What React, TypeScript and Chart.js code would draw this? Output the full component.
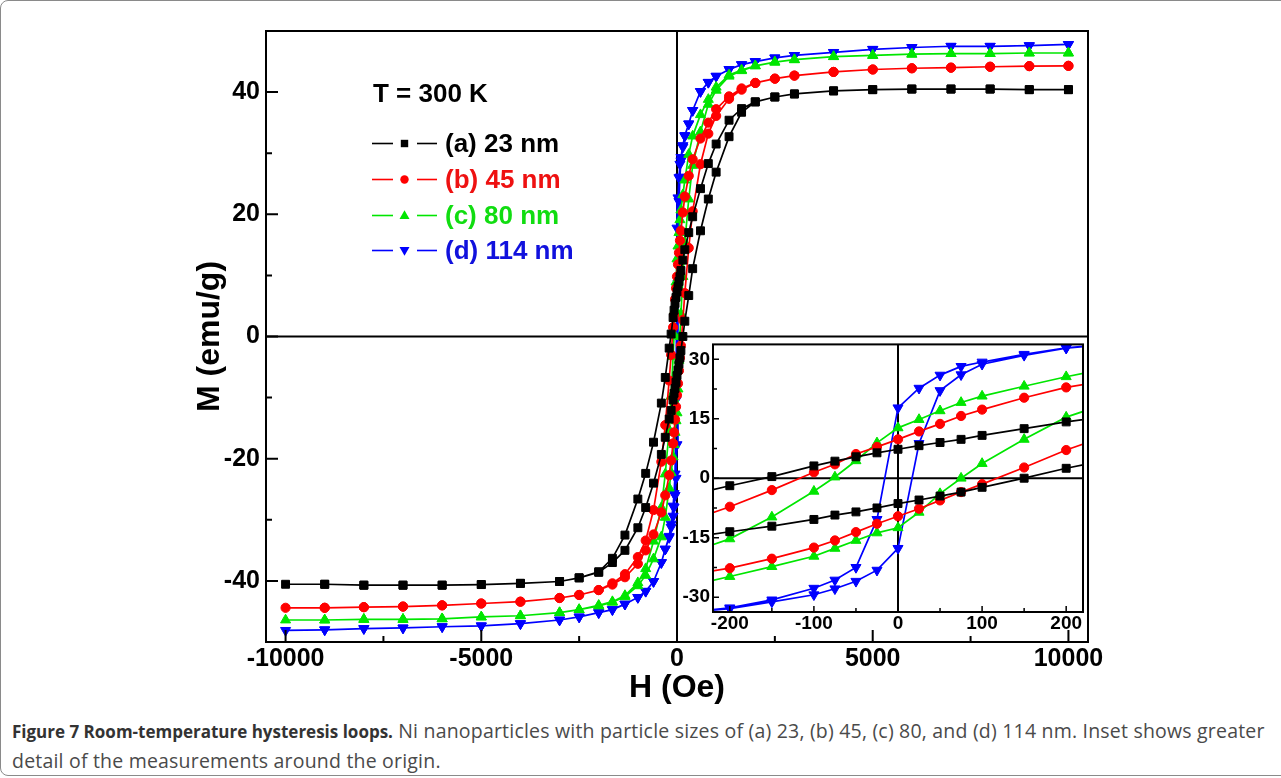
import React, { useEffect, useRef } from 'react';
import { Chart, registerables } from 'chart.js';

Chart.register(...registerables);

// Applied field, descending branch (Oe)
const fieldDown = [10000, 9000, 8000, 7000, 6000, 5000, 4000, 3000, 2500, 2000, 1650, 1330, 1000, 800, 600, 400, 300, 200, 150, 100, 75, 50, 25, 0, -25, -50, -75, -100, -150, -200, -300, -400, -600, -800, -1000, -1330, -1650, -2000, -2500, -3000, -4000, -5000, -6000, -7000, -8000, -9000, -10000];
// Applied field, ascending branch (Oe)
const fieldUp = [-10000, -9000, -8000, -7000, -6000, -5000, -4000, -3000, -2500, -2000, -1650, -1330, -1000, -800, -600, -400, -300, -200, -150, -100, -75, -50, -25, 0, 25, 50, 75, 100, 150, 200, 300, 400, 600, 800, 1000, 1330, 1650, 2000, 2500, 3000, 4000, 5000, 6000, 7000, 8000, 9000, 10000];

// (a) 23 nm
const m23Down = [40.4, 40.4, 40.5, 40.5, 40.5, 40.4, 40.2, 39.7, 39.2, 38.4, 37.3, 35.4, 31.5, 28.3, 24.2, 19.6, 17.0, 14.2, 12.5, 10.8, 9.8, 9.0, 8.2, 7.3, 6.4, 5.4, 4.3, 3.1, 0.4, -1.9, -6.7, -10.9, -17.3, -22.4, -26.6, -32.5, -36.3, -38.5, -39.5, -40.1, -40.4, -40.6, -40.7, -40.7, -40.7, -40.55, -40.55];
const m23Up = [-40.55, -40.55, -40.7, -40.7, -40.7, -40.6, -40.4, -40.1, -39.5, -38.6, -37.0, -35.0, -31.3, -28.0, -24.0, -19.3, -16.5, -13.5, -12.1, -10.4, -9.3, -8.5, -7.5, -6.4, -5.5, -4.5, -3.5, -2.3, 0.0, 2.5, 6.7, 11.1, 17.3, 22.5, 26.9, 32.7, 36.7, 38.4, 39.2, 39.7, 40.2, 40.4, 40.5, 40.5, 40.5, 40.4, 40.4];

// (b) 45 nm
const m45Down = [44.3, 44.25, 44.15, 44.0, 43.9, 43.7, 43.3, 42.7, 42.2, 41.5, 40.6, 39.3, 37.2, 35.0, 32.4, 29.0, 26.3, 22.9, 20.3, 17.3, 15.7, 13.7, 11.8, 9.8, 7.9, 6.1, 3.5, 1.5, -3.0, -7.2, -14.5, -20.5, -28.4, -33.4, -36.1, -38.9, -40.4, -41.5, -42.3, -42.8, -43.4, -43.7, -44.0, -44.2, -44.3, -44.4, -44.4];
const m45Up = [-44.4, -44.4, -44.3, -44.2, -44.0, -43.7, -43.4, -42.8, -42.3, -41.5, -40.6, -39.4, -37.2, -35.0, -32.4, -28.8, -26.0, -22.7, -20.3, -17.5, -15.7, -13.6, -11.5, -9.6, -7.7, -5.6, -3.5, -1.5, 2.7, 7.1, 14.5, 20.5, 28.2, 33.2, 36.1, 38.9, 40.4, 41.5, 42.2, 42.7, 43.3, 43.7, 43.9, 44.0, 44.15, 44.25, 44.3];

// (c) 80 nm
const m80Down = [46.4, 46.4, 46.3, 46.3, 46.2, 46.0, 45.8, 45.3, 44.9, 44.3, 43.6, 42.8, 40.8, 38.8, 36.3, 32.8, 29.8, 25.6, 23.2, 20.7, 19.1, 17.0, 14.8, 12.7, 8.9, 4.4, 0.3, -3.3, -9.8, -15.3, -22.5, -28.0, -33.5, -38.0, -40.3, -42.4, -43.4, -44.0, -44.7, -45.2, -45.7, -45.9, -46.2, -46.3, -46.3, -46.4, -46.4];
const m80Up = [-46.4, -46.4, -46.3, -46.3, -46.2, -45.9, -45.7, -45.2, -44.7, -44.1, -43.5, -42.6, -40.8, -39.1, -36.4, -32.8, -29.6, -24.8, -22.3, -19.7, -17.7, -15.7, -13.8, -12.5, -8.6, -3.9, 0.0, 3.7, 9.8, 15.4, 22.5, 28.0, 33.5, 38.0, 40.3, 42.6, 43.5, 44.3, 44.9, 45.3, 45.8, 46.0, 46.2, 46.3, 46.3, 46.4, 46.4];

// (d) 114 nm
const m114Down = [47.8, 47.6, 47.5, 47.5, 47.3, 47.0, 46.5, 46.0, 45.6, 45.0, 44.5, 43.7, 42.6, 41.6, 40.1, 37.0, 34.8, 32.9, 31.25, 29.3, 28.2, 26.0, 22.7, 17.75, -10.4, -22.5, -25.7, -27.75, -30.7, -32.7, -34.8, -37.0, -40.1, -41.7, -42.7, -43.8, -44.7, -45.2, -45.9, -46.4, -47.0, -47.35, -47.5, -47.7, -47.8, -48.0, -48.1];
const m114Up = [-48.1, -48.0, -47.8, -47.7, -47.5, -47.35, -47.0, -46.4, -45.9, -45.2, -44.7, -43.8, -42.7, -41.7, -40.1, -37.0, -34.8, -32.9, -31.2, -29.4, -27.9, -26.0, -23.2, -17.7, 8.75, 22.1, 26.1, 28.75, 31.0, 32.8, 34.8, 37.0, 40.1, 41.6, 42.6, 43.7, 44.5, 45.0, 45.6, 46.0, 46.5, 47.0, 47.3, 47.5, 47.5, 47.6, 47.8];

const seriesLabels = ['(a) 23 nm', '(b) 45 nm', '(c) 80 nm', '(d) 114 nm'];
const legendTitle = 'T = 300 K';

const mainHTicks = [-10000, -5000, 0, 5000, 10000];
const mainHMinor = [-7500, -2500, 2500, 7500];
const mainMTicks = [-40, -20, 0, 20, 40];
const mainMMinor = [-30, -10, 10, 30];
const insetHTicks = [-200, -100, 0, 100, 200];
const insetHMinor = [-150, -50, 50, 150];
const insetMTicks = [-30, -15, 0, 15, 30];
const insetMMinor = [-22.5, -7.5, 7.5, 22.5];

const captionBold = 'Figure 7 Room-temperature hysteresis loops.';
const captionLine1 = ' Ni nanoparticles with particle sizes of (a) 23, (b) 45, (c) 80, and (d) 114 nm. Inset shows greater';
const captionLine2 = 'detail of the measurements around the origin.';

// styles
const colors = ['#000000', '#ff0000', '#00e600', '#0000ff'];
const pointStyles = ['rect', 'circle', 'triangle', 'triangle'];
const pointRotations = [0, 0, 0, 180];
const pointRadii = [5.6, 4.6, 5.8, 5.8];

const FONT = '"Liberation Sans", Arial, Helvetica, sans-serif';

function buildLoops() {
  const downs = [m23Down, m45Down, m80Down, m114Down];
  const ups = [m23Up, m45Up, m80Up, m114Up];
  return downs.map((d, i) => {
    const pts = [] as { x: number; y: number }[];
    fieldDown.forEach((h, k) => pts.push({ x: h, y: d[k] }));
    fieldUp.forEach((h, k) => { if (k > 0) pts.push({ x: h, y: ups[i][k] }); });
    return {
      label: seriesLabels[i],
      data: pts,
      showLine: true,
      borderColor: colors[i],
      backgroundColor: colors[i],
      borderWidth: 1.7,
      pointStyle: pointStyles[i],
      pointRotation: pointRotations[i],
      pointRadius: pointRadii[i],
      pointBorderWidth: 1,
      pointBorderColor: colors[i],
      pointBackgroundColor: colors[i],
    };
  });
}

function decor(cfg: any) {
  return {
    id: 'decor',
    beforeDraw(chart: any) {
      if (!cfg.fill) return;
      const { ctx, chartArea: a } = chart;
      ctx.save();
      ctx.fillStyle = '#ffffff';
      ctx.fillRect(a.left, a.top, a.right - a.left, a.bottom - a.top);
      ctx.restore();
    },
    beforeDatasetsDraw(chart: any) {
      const { ctx, chartArea: a, scales } = chart;
      const x0 = scales.x.getPixelForValue(0);
      const y0 = scales.y.getPixelForValue(0);
      ctx.save();
      ctx.strokeStyle = '#000';
      ctx.lineWidth = cfg.zeroWidth;
      ctx.beginPath();
      ctx.moveTo(x0, a.top); ctx.lineTo(x0, a.bottom);
      ctx.moveTo(a.left, y0); ctx.lineTo(a.right, y0);
      ctx.stroke();
      ctx.restore();
    },
    afterDatasetsDraw(chart: any) {
      const { ctx, chartArea: a, scales } = chart;
      ctx.save();
      ctx.strokeStyle = '#000';
      ctx.lineWidth = cfg.frameWidth;
      ctx.strokeRect(a.left, a.top, a.right - a.left, a.bottom - a.top);
      ctx.lineWidth = cfg.tickWidth;
      ctx.beginPath();
      const xt = (vals: number[], len: number) => vals.forEach((v) => {
        const p = scales.x.getPixelForValue(v);
        ctx.moveTo(p, a.bottom); ctx.lineTo(p, a.bottom - len);
      });
      const yt = (vals: number[], len: number) => vals.forEach((v) => {
        const p = scales.y.getPixelForValue(v);
        ctx.moveTo(a.left, p); ctx.lineTo(a.left + len, p);
      });
      xt(cfg.xMajor, cfg.majorLen); xt(cfg.xMinor, cfg.minorLen);
      yt(cfg.yMajor, cfg.majorLen); yt(cfg.yMinor, cfg.minorLen);
      ctx.stroke();
      ctx.restore();
    },
  };
}

function LegendSwatch({ i }: { i: number }) {
  const c = colors[i];
  let marker: any = null;
  if (i === 0) marker = <rect x={28.8} y={7.8} width={7.4} height={7.4} fill={c} />;
  else if (i === 1) marker = <circle cx={32.5} cy={11.5} r={4.2} fill={c} />;
  else if (i === 2) marker = <polygon points="32.5,6.3 37.5,14.9 27.5,14.9" fill={c} />;
  else marker = <polygon points="32.5,16.7 37.5,8.1 27.5,8.1" fill={c} />;
  return (
    <svg width={66} height={23} style={{ position: 'absolute', left: 372, top: -11.5 }}>
      <line x1={0} y1={11.5} x2={21} y2={11.5} stroke={c} strokeWidth={1.6} />
      <line x1={45} y1={11.5} x2={65} y2={11.5} stroke={c} strokeWidth={1.6} />
      {marker}
    </svg>
  );
}

export default function App() {
  const mainRef = useRef<HTMLCanvasElement>(null);
  const insetRef = useRef<HTMLCanvasElement>(null);

  useEffect(() => {
    document.body.style.margin = '0';
    document.body.style.overflow = 'hidden';
    const tickFont = { family: FONT, size: 25, weight: 'bold' as const };
    const mainChart = new Chart(mainRef.current as HTMLCanvasElement, {
      type: 'scatter',
      data: { datasets: buildLoops() as any },
      plugins: [decor({ fill: false, zeroWidth: 2, frameWidth: 2, tickWidth: 2, majorLen: 12, minorLen: 6, xMajor: mainHTicks, xMinor: mainHMinor, yMajor: mainMTicks, yMinor: mainMMinor })],
      options: {
        animation: false,
        responsive: false,
        events: [],
        layout: { padding: { left: 0, top: 31, right: 193, bottom: 0 } },
        plugins: { legend: { display: false }, tooltip: { enabled: false } },
        scales: {
          x: {
            type: 'linear', position: 'bottom', min: -10500, max: 10500,
            afterBuildTicks: (s: any) => { s.ticks = mainHTicks.map((v) => ({ value: v })); },
            afterFit: (s: any) => { s.height = 68; },
            grid: { display: false, drawTicks: false },
            border: { display: false },
            ticks: { font: tickFont, color: '#000', padding: 2, callback: (v: any) => String(v) },
            title: { display: true, text: 'H (Oe)', color: '#000', font: { family: FONT, size: 32, weight: 'bold' }, padding: { top: 0, bottom: 3 } },
          },
          y: {
            type: 'linear', position: 'left', min: -50, max: 50,
            afterBuildTicks: (s: any) => { s.ticks = mainMTicks.map((v) => ({ value: v })); },
            afterFit: (s: any) => { s.width = 266; },
            grid: { display: false, drawTicks: false },
            border: { display: false },
            ticks: { font: tickFont, color: '#000', padding: 6, callback: (v: any) => String(v) },
            title: { display: true, text: 'M (emu/g)', color: '#000', font: { family: FONT, size: 32, weight: 'bold' }, padding: { top: 191, bottom: 0 } },
          },
        },
      } as any,
    });

    const insetFont = { family: FONT, size: 19, weight: 'bold' as const };
    const insetChart = new Chart(insetRef.current as HTMLCanvasElement, {
      type: 'scatter',
      data: { datasets: buildLoops() as any },
      plugins: [decor({ fill: true, zeroWidth: 2, frameWidth: 2, tickWidth: 1.5, majorLen: 6, minorLen: 4, xMajor: insetHTicks, xMinor: insetHMinor, yMajor: insetMTicks, yMinor: insetMMinor })],
      options: {
        animation: false,
        responsive: false,
        events: [],
        layout: { padding: { left: 0, top: 12, right: 7, bottom: 0 } },
        plugins: { legend: { display: false }, tooltip: { enabled: false } },
        scales: {
          x: {
            type: 'linear', position: 'bottom', min: -220, max: 220,
            afterBuildTicks: (s: any) => { s.ticks = insetHTicks.map((v) => ({ value: v })); },
            afterFit: (s: any) => { s.height = 28; },
            grid: { display: false, drawTicks: false },
            border: { display: false },
            ticks: { font: insetFont, color: '#000', padding: 0, callback: (v: any) => String(v) },
          },
          y: {
            type: 'linear', position: 'left', min: -33.75, max: 33.75,
            afterBuildTicks: (s: any) => { s.ticks = insetMTicks.map((v) => ({ value: v })); },
            afterFit: (s: any) => { s.width = 43; },
            grid: { display: false, drawTicks: false },
            border: { display: false },
            ticks: { font: insetFont, color: '#000', padding: 3, callback: (v: any) => String(v) },
          },
        },
      } as any,
    });

    return () => { mainChart.destroy(); insetChart.destroy(); };
  }, []);

  const rowTops = [143.5, 179.5, 215, 250.5];
  const textColors = ['#000000', '#ee1111', '#11dd11', '#1111dd'];

  return (
    <div style={{ position: 'relative', width: 1281, height: 778, background: '#fff', overflow: 'hidden', fontFamily: FONT }}>
      <div style={{ position: 'absolute', left: 0, top: 0, width: 1300, height: 776, border: '1px solid #8a8a8a', borderRadius: 8, boxSizing: 'border-box' }} />
      <canvas ref={mainRef} width={1281} height={710} style={{ position: 'absolute', left: 0, top: 0, width: 1281, height: 710 }} />
      <canvas ref={insetRef} width={420} height={310} style={{ position: 'absolute', left: 670, top: 330, width: 420, height: 310 }} />
      <div style={{ position: 'absolute', left: 373, top: 79, fontSize: 26, fontWeight: 'bold', lineHeight: '29px', color: '#000', whiteSpace: 'nowrap' }}>{legendTitle}</div>
      {seriesLabels.map((lab, i) => (
        <div key={lab} style={{ position: 'absolute', left: 0, top: rowTops[i], width: 700, height: 0 }}>
          <LegendSwatch i={i} />
          <div style={{ position: 'absolute', left: 445, top: -14.3, fontSize: 26, fontWeight: 'bold', lineHeight: '29px', color: textColors[i], whiteSpace: 'nowrap' }}>{lab}</div>
        </div>
      ))}
      <div style={{ position: 'absolute', left: 12, top: 716, fontFamily: '"Open Sans", "Noto Sans", sans-serif', fontSize: 19.5, letterSpacing: '0.2px', lineHeight: '29px', color: '#4a4a4a', whiteSpace: 'nowrap' }}>
        <span style={{ fontWeight: 'bold', color: '#333', fontSize: 17, letterSpacing: 0 }}>{captionBold}</span>{captionLine1}<br />{captionLine2}
      </div>
    </div>
  );
}
